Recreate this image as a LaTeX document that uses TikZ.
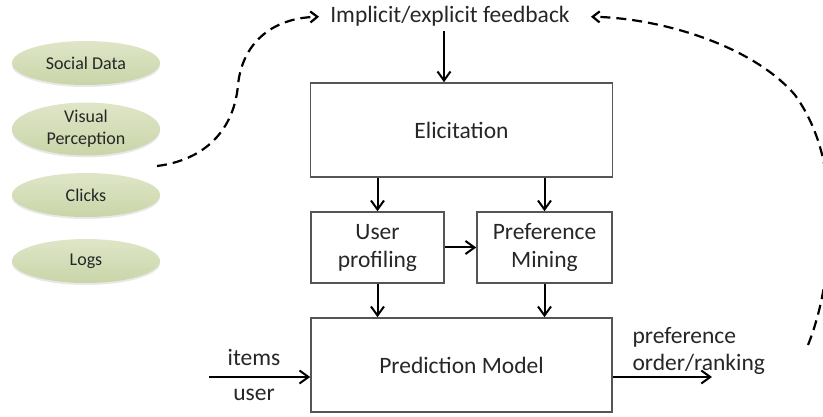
\documentclass[tikz,border=0pt]{standalone}
\usepackage{fontspec}
\setmainfont{Carlito}
\usetikzlibrary{arrows.meta,shapes.geometric,shadows}

\definecolor{leaflight}{HTML}{DFE6C8}
\definecolor{leafdark}{HTML}{C9D5A8}
\definecolor{boxline}{HTML}{555555}
\definecolor{ink}{HTML}{262626}

\begin{document}
\begin{tikzpicture}[
    x=1pt, y=1pt,
    src/.style={ellipse,top color=leaflight,bottom color=leafdark,draw=none,
        minimum width=148pt,minimum height=44pt,inner sep=0pt,align=center,
        font=\fontsize{18}{22}\selectfont,text=ink,
        drop shadow={opacity=0.18,shadow xshift=0pt,shadow yshift=-2pt}},
    block/.style={rectangle,draw=boxline,line width=1.6pt,align=center,
        font=\fontsize{23.5}{28}\selectfont,text=ink,inner sep=0pt},
    lbl/.style={font=\fontsize{23.5}{27}\selectfont,text=ink},
    arrow/.style={-{Straight Barb[length=9pt,width=13pt]},line width=2pt},
    fbarrow/.style={-{Straight Barb[length=7pt,width=11pt]},line width=2.2pt,
        dash pattern=on 10pt off 6pt}
]
\useasboundingbox (0,0) rectangle (823,-417);

% data sources
\node[src] (social) at (86,-63) {Social Data};
\node[src] (visual) at (86,-129) {Visual\\Perception};
\node[src] (clicks) at (86,-195) {Clicks};
\node[src] (logs) at (86,-261) {Logs};

% feedback label and main blocks
\node[lbl,anchor=base,inner xsep=11pt,inner ysep=4pt] (fb) at (450,-23) {Implicit/explicit feedback};
\node[block,minimum width=302pt,minimum height=94pt] (elic) at (461.5,-130) {Elicitation};
\node[block,minimum width=133pt,minimum height=71pt] (prof) at (377.5,-247.5) {User\\profiling};
\node[block,minimum width=135pt,minimum height=71pt] (mine) at (544.5,-247.5) {Preference\\Mining};
\node[block,minimum width=301pt,minimum height=94pt] (pred) at (461.5,-365) {Prediction Model};

\coordinate (fbdrop) at (444,0);
\draw[arrow] (fb.south -| fbdrop) -- (elic.north -| fbdrop);
\draw[arrow] (prof.north |- elic.south) -- (prof.north);
\draw[arrow] (mine.north |- elic.south) -- (mine.north);
\draw[arrow] (prof.east) -- (mine.west);
\draw[arrow] (prof.south) -- (prof.south |- pred.north);
\draw[arrow] (mine.south) -- (mine.south |- pred.north);

% input and output
\coordinate (in) at (209,-377);
\coordinate (out) at (712,-377);
\draw[arrow] (in) -- (in -| pred.west);
\draw[arrow] (out -| pred.east) -- (out);
\node[lbl,anchor=base] (items) at (254,-365) {items};
\node[lbl,anchor=base] (user) at (254,-400) {user};
\node[lbl,align=left,anchor=west] (rank) at (629,-351) {preference\\order/ranking};

% feedback loops
\coordinate (clickfb) at (157,-166);
\coordinate (rankfb) at (808,-345);
\draw[fbarrow] (clickfb) .. controls (205,-160) and (234,-130) .. (238,-85)
    .. controls (242,-45) and (270,-18) .. (fb.west);
\draw[fbarrow] (rankfb) .. controls (826,-300) and (830,-250) .. (829,-210)
    .. controls (828,-170) and (820,-130) .. (795,-95)
    .. controls (752,-45) and (660,-18) .. ([xshift=10pt]fb.east);

\end{tikzpicture}
\end{document}
